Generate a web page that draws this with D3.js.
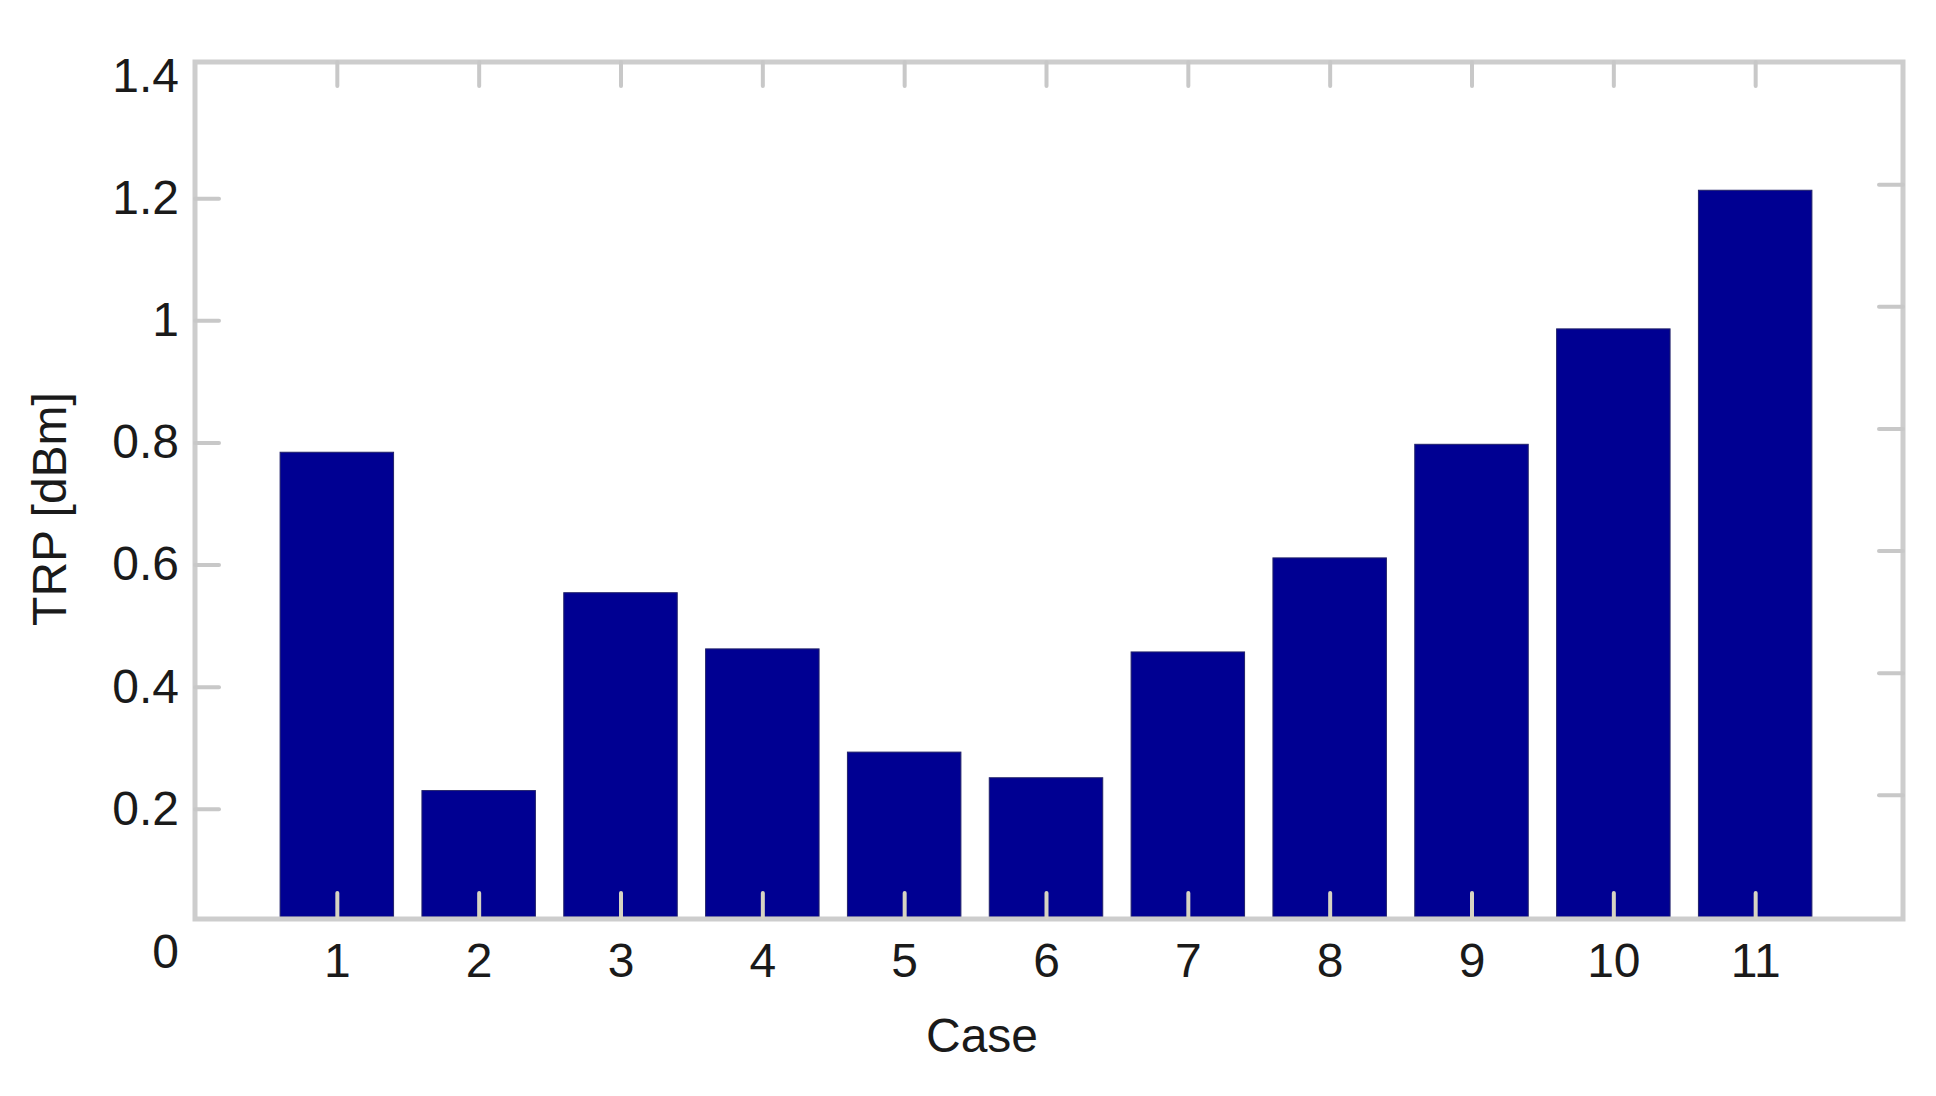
<!DOCTYPE html>
<html>
<head>
<meta charset="utf-8">
<script src="https://cdn.jsdelivr.net/npm/d3@7"></script>
<style>
  html, body { margin: 0; padding: 0; background: #ffffff; }
  svg { display: block; }
  text { font-family: "Liberation Sans", Arial, sans-serif; fill: #1a1a1a; }
</style>
</head>
<body>
<svg id="chart" width="1936" height="1096"></svg>
<script>
// ---- data ----
const categories = [1, 2, 3, 4, 5, 6, 7, 8, 9, 10, 11];
const values = [0.761, 0.207, 0.531, 0.439, 0.27, 0.228, 0.434, 0.588, 0.774, 0.963, 1.19];
const yTicks = [0, 0.2, 0.4, 0.6, 0.8, 1, 1.2, 1.4];
const yTickLabels = ["0", "0.2", "0.4", "0.6", "0.8", "1", "1.2", "1.4"];
const xTickLabels = ["1", "2", "3", "4", "5", "6", "7", "8", "9", "10", "11"];
const xLabel = "Case";
const yLabel = "TRP [dBm]";

// ---- layout ----
const svg = d3.select("#chart");
const plotLeft = 195, plotRight = 1903, plotTop = 62, plotBottom = 917;
const x = d3.scaleLinear().domain([0, 12]).range([plotLeft, 1897]);
const y = d3.scaleLinear().domain([0, 1.4]).range([plotBottom, plotTop]);
const barW = 0.8;
const frameColor = "#cdcdcd";
const tickColor = "#c8c8c8";

// bars
svg.append("g").selectAll("rect")
  .data(categories)
  .join("rect")
  .attr("x", (d) => x(d - barW / 2))
  .attr("width", (d) => x(d + barW / 2) - x(d - barW / 2))
  .attr("y", (d, i) => y(values[i]))
  .attr("height", (d, i) => y(0) - y(values[i]))
  .attr("fill", "#000092")
  .attr("stroke", "#22226a")
  .attr("stroke-width", 1);

// frame
svg.append("rect")
  .attr("x", plotLeft).attr("y", plotTop)
  .attr("width", plotRight - plotLeft).attr("height", plotBottom + 2 - plotTop)
  .attr("fill", "none")
  .attr("stroke", frameColor)
  .attr("stroke-width", 5);

function styleAxis(g, color) {
  g.select(".domain").remove();
  g.selectAll(".tick line").attr("stroke", color).attr("stroke-width", 4).attr("stroke-linecap", "round");
  g.selectAll(".tick text").style("font-family", "'Liberation Sans', Arial, sans-serif")
    .style("font-size", "48px").attr("fill", "#1a1a1a");
}

// left axis (labels)
const gLeft = svg.append("g")
  .attr("transform", `translate(${plotLeft},14)`)
  .call(d3.axisLeft(y).tickValues(yTicks)
    .tickFormat((d, i) => yTickLabels[i]).tickSize(-24).tickPadding(16));
styleAxis(gLeft, tickColor);
gLeft.selectAll(".tick").filter((d) => d === 0 || d === 1.4).select("line").remove();
gLeft.selectAll(".tick").filter((d) => d === 0).select("text").attr("dy", "0.76em");

// right axis (ticks only)
const gRight = svg.append("g")
  .attr("transform", `translate(${plotRight},0)`)
  .call(d3.axisRight(y).tickValues(yTicks.slice(1, -1)).tickFormat("").tickSize(-24));
styleAxis(gRight, tickColor);

// top axis (ticks only)
const gTop = svg.append("g")
  .attr("transform", `translate(0,${plotTop})`)
  .call(d3.axisTop(x).tickValues(categories).tickFormat("").tickSize(-24));
styleAxis(gTop, tickColor);

// bottom axis
const gBottom = svg.append("g")
  .attr("transform", `translate(0,${plotBottom})`)
  .call(d3.axisBottom(x).tickValues(categories)
    .tickFormat((d, i) => xTickLabels[i]).tickSize(-24).tickPadding(26));
styleAxis(gBottom, "#d6d3c2");

// axis titles
svg.append("text")
  .attr("x", 982).attr("y", 1052)
  .attr("text-anchor", "middle")
  .style("font-size", "48px")
  .text(xLabel);

svg.append("text")
  .attr("transform", "translate(66,509) rotate(-90)")
  .attr("text-anchor", "middle")
  .style("font-size", "48px")
  .text(yLabel);
</script>
</body>
</html>
